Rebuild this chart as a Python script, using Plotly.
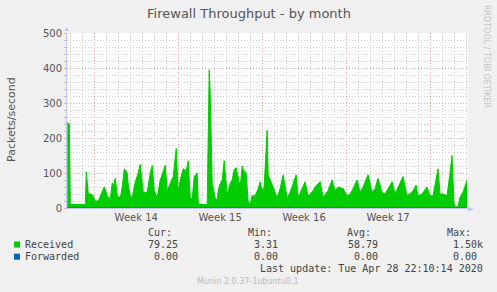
import plotly.graph_objects as go

# Time in hours relative to Monday 2020-03-30 00:00 (start of Week 14)
hours = [-54, -50, -48, -18, -16, -14, -12, -4, -2, 2, 8, 12, 16, 20, 24, 26, 32, 36, 38, 42,
         46, 52, 56, 60, 66, 68, 72, 76, 82, 88, 92, 98, 106, 112, 116, 120, 126, 132, 138, 142,
         146, 152, 158, 164, 168, 172, 178, 184, 188, 192, 196, 200, 206, 208, 210, 226, 228, 230, 232, 236,
         242, 246, 248, 252, 256, 260, 266, 272, 276, 280, 284, 288, 292, 296, 298, 304, 308, 312, 316, 322,
         328, 332, 336, 340, 346, 348, 352, 358, 366, 372, 378, 386, 392, 398, 404, 408, 416, 422, 428, 436,
         442, 452, 458, 468, 476, 482, 488, 498, 506, 512, 518, 526, 532, 538, 548, 556, 562, 568, 576, 582,
         588, 596, 602, 608, 618, 626, 636, 644, 648, 656, 666, 672, 678, 688, 692, 698, 706, 712, 716, 720,
         722, 728, 732, 738, 744, 746]
received = [245, 240, 10, 10, 103, 60, 42, 38, 30, 20, 20, 35, 50, 60, 45, 35, 25, 72, 60, 85,
            35, 28, 60, 112, 100, 65, 35, 30, 75, 100, 125, 45, 45, 100, 122, 50, 30, 80, 105, 122,
            50, 70, 90, 170, 45, 80, 112, 105, 135, 30, 25, 90, 100, 20, 10, 10, 200, 395, 330, 70,
            30, 20, 50, 70, 80, 135, 38, 70, 80, 110, 115, 90, 60, 120, 110, 100, 20, 10, 35, 35,
            55, 75, 50, 60, 222, 95, 80, 60, 30, 55, 95, 30, 45, 70, 95, 30, 55, 75, 35, 45,
            60, 75, 30, 50, 80, 50, 60, 55, 35, 40, 55, 80, 45, 60, 95, 45, 55, 85, 45, 40,
            55, 75, 40, 60, 90, 35, 45, 65, 35, 40, 60, 35, 35, 112, 40, 40, 35, 100, 150, 15,
            3.3, 3.3, 30, 45, 75, 79]
forwarded = [0 for _ in hours]

week_centers = [84, 252, 420, 588]
week_labels = ["Week 14", "Week 15", "Week 16", "Week 17"]

series_names = ["Received", "Forwarded"]
series_colors = ["#00CC00", "#0066B3"]
stat_headers = ["Cur:", "Min:", "Avg:", "Max:"]
stats_received = ["79.25", "3.31", "58.79", "1.50k"]
stats_forwarded = ["0.00", "0.00", "0.00", "0.00"]

W, H = 497, 292
L, R, T, B = 67, 29, 33, 84
pw, ph = W - L - R, H - T - B
def px(x):
    return (x - L) / pw
def py(y):
    return (H - B - y) / ph

XR = [-54.6, 748]

fig = go.Figure()
fig.add_trace(go.Scatter(x=hours, y=received, mode="lines", fill="tozeroy",
                         line=dict(color=series_colors[0], width=1),
                         fillcolor=series_colors[0], name=series_names[0],
                         hoverinfo="skip"))
fig.add_trace(go.Scatter(x=hours, y=forwarded, mode="lines",
                         line=dict(color=series_colors[1], width=1),
                         name=series_names[1], hoverinfo="skip"))
fig.add_trace(go.Scatter(x=[XR[0], XR[1]], y=[None, None], xaxis="x2", showlegend=False,
                         hoverinfo="skip"))

major_grid = "#F2A8A8"
minor_grid = "#CFCFCF"
axis_col = "#BCC6F2"
dots = "1px,2px"
font_txt = "DejaVu Sans"
mono = "DejaVu Sans Mono"

fig.update_layout(
    width=W, height=H,
    margin=dict(l=L, r=R, t=T, b=B),
    paper_bgcolor="#F0F0F0", plot_bgcolor="#FFFFFF",
    showlegend=False,
    title=dict(text="Firewall Throughput - by month", x=249 / W, xanchor="center",
               y=1 - 13 / H, yanchor="middle",
               font=dict(family=font_txt, size=13, color="#555555")),
    xaxis=dict(range=XR, tickvals=week_centers, ticktext=week_labels, showgrid=False,
               zeroline=False, showline=True, linecolor=axis_col, linewidth=1,
               ticks="", ticklen=0,
               tickfont=dict(family=font_txt, size=10, color="#555555"),
               minor=dict(dtick=24, tick0=0, showgrid=True, gridcolor=minor_grid,
                          griddash=dots, gridwidth=1, ticks="")),
    xaxis2=dict(range=XR, overlaying="x", anchor="y", side="bottom", tick0=0, dtick=168,
                showticklabels=False, showgrid=True, gridcolor=major_grid, griddash=dots,
                gridwidth=1, zeroline=False, showline=False, ticks=""),
    yaxis=dict(range=[0, 500], tick0=0, dtick=100, showgrid=True, gridcolor=major_grid,
               griddash=dots, gridwidth=1, zeroline=False, showline=True,
               linecolor=axis_col, linewidth=1, ticks="outside", ticklen=2,
               tickcolor=major_grid,
               tickfont=dict(family=font_txt, size=10, color="#555555"),
               minor=dict(dtick=20, showgrid=True, gridcolor=minor_grid, griddash=dots,
                          gridwidth=1, ticks="outside", ticklen=2, tickcolor="#BBBBBB")),
)

def note(text, x, y, xanchor="center", font=None, **kw):
    return dict(text=text, xref="paper", yref="paper", x=px(x), y=py(y), xanchor=xanchor,
                yanchor="middle", showarrow=False, font=font, borderpad=0, borderwidth=0, **kw)

ann = []
ann.append(note("Packets/second", 11, 120, textangle=-90,
                font=dict(family=font_txt, size=11, color="#555555")))
ann.append(note("RRDTOOL / TOBI OETIKER", 487, 56, textangle=90,
                font=dict(family=font_txt, size=8, color="#C4C4C4")))
ann.append(note("▲", 66.5, 29, font=dict(size=7, color=axis_col)))
ann.append(note("▶", 471, 208, font=dict(size=7, color=axis_col)))

txt = dict(family=mono, size=10, color="#444444")
col_right = [178, 278, 378, 483]
head_right = [172, 272, 371, 471]
for h, xr in zip(stat_headers, head_right):
    ann.append(note(h, xr, 232, xanchor="right", font=txt))
rows = [(series_names[0], stats_received, 244.5), (series_names[1], stats_forwarded, 256.7)]
shapes = []
for (name, vals, yy), colr in zip(rows, series_colors):
    ann.append(note(name, 25, yy, xanchor="left", font=txt))
    for i, (v, xr) in enumerate(zip(vals, col_right)):
        if i == 3 and not v.endswith("k"):
            xr = 477
        ann.append(note(v, xr, yy, xanchor="right", font=txt))
    shapes.append(dict(type="rect", xref="paper", yref="paper", x0=px(14), x1=px(20),
                       y0=py(yy + 3), y1=py(yy - 3), fillcolor=colr, line=dict(width=0)))
ann.append(note("Last update: Tue Apr 28 22:10:14 2020", 483, 268.3, xanchor="right", font=txt))
ann.append(note("Munin 2.0.37-1ubuntu0.1", 248, 281,
                font=dict(family=font_txt, size=8, color="#BBBBBB")))

fig.update_layout(annotations=ann, shapes=shapes)
fig.write_html("out.html")
